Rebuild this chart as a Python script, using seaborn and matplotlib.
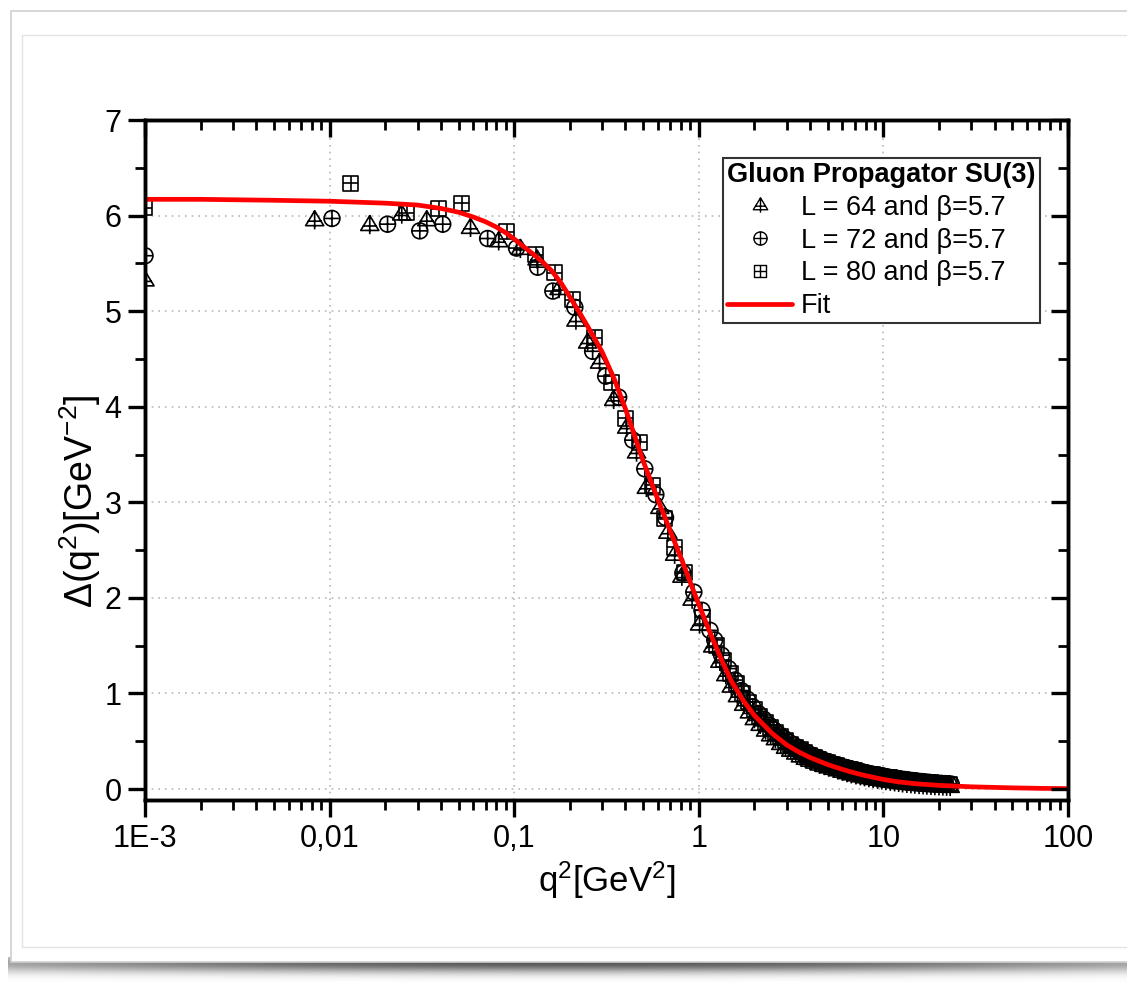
import numpy as np
import pandas as pd
import matplotlib
matplotlib.use("Agg")
import matplotlib.pyplot as plt
import seaborn as sns
from matplotlib.path import Path
from matplotlib.lines import Line2D
from matplotlib.patches import Rectangle
from matplotlib.ticker import FixedLocator, FixedFormatter, NullFormatter, MultipleLocator, LogLocator

# ---------------- data ----------------
q2_L64 = [0.001, 0.0083, 0.0165, 0.0246, 0.0336, 0.058, 0.0824, 0.108, 0.133, 0.175,
          0.216, 0.250, 0.29, 0.346, 0.407, 0.46, 0.52, 0.615, 0.68, 0.74, 0.81, 0.92, 1.01,
          1.19, 1.3, 1.4, 1.5, 1.62, 1.75, 1.88, 2.0, 2.15, 2.3, 2.45, 2.6, 2.78, 2.95,
          3.15, 3.35, 3.55, 3.78, 4.0, 4.25, 4.5, 4.78, 5.05, 5.35, 5.65, 6.0, 6.35, 6.7,
          7.1, 7.5, 7.9, 8.35, 8.8, 9.3, 9.8, 10.3, 10.9, 11.5, 12.1, 12.7, 13.4, 14.1,
          14.8, 15.6, 16.4, 17.2, 18.1, 19.0, 20.0, 21.0, 22.0, 23.0]
D_L64 = [5.32, 5.95, 5.90, 6.01, 5.95, 5.87, 5.73, 5.65, 5.54, 5.23,
         4.90, 4.67, 4.46, 4.07, 3.78, 3.52, 3.15, 2.94, 2.68, 2.45, 2.22, 1.98, 1.72,
         1.49, 1.33, 1.19, 1.07, 0.97, 0.88, 0.80, 0.73, 0.67, 0.61, 0.56, 0.52, 0.47, 0.43,
         0.40, 0.37, 0.34, 0.315, 0.295, 0.275, 0.255, 0.24, 0.225, 0.21, 0.195, 0.18, 0.165, 0.153,
         0.142, 0.132, 0.122, 0.113, 0.104, 0.096, 0.089, 0.082, 0.075, 0.069, 0.063, 0.058, 0.053, 0.049,
         0.045, 0.041, 0.038, 0.035, 0.032, 0.029, 0.027, 0.025, 0.023, 0.021]

q2_L72 = [0.001, 0.0103, 0.0206, 0.0308, 0.041, 0.0718, 0.103, 0.134, 0.162, 0.213,
          0.266, 0.313, 0.368, 0.439, 0.51, 0.585, 0.66, 0.82, 0.94, 1.04, 1.15,
          1.22, 1.33, 1.45, 1.57, 1.7, 1.83, 1.96, 2.1, 2.25, 2.4, 2.55, 2.72, 2.9, 3.08,
          3.27, 3.47, 3.68, 3.9, 4.13, 4.38, 4.64, 4.9, 5.2, 5.5, 5.82, 6.17, 6.52, 6.9,
          7.3, 7.7, 8.12, 8.57, 9.05, 9.55, 10.05, 10.6, 11.2, 11.8, 12.4, 13.05, 13.75,
          14.45, 15.2, 16.0, 16.8, 17.65, 18.5, 19.5, 20.5, 21.5, 22.5, 23.3]
D_L72 = [5.58, 5.97, 5.91, 5.84, 5.91, 5.76, 5.66, 5.46, 5.21, 5.04,
         4.58, 4.32, 4.10, 3.65, 3.35, 3.08, 2.84, 2.26, 2.06, 1.87, 1.66,
         1.56, 1.40, 1.26, 1.14, 1.03, 0.94, 0.86, 0.79, 0.73, 0.67, 0.62, 0.57, 0.53, 0.49,
         0.46, 0.43, 0.40, 0.375, 0.35, 0.33, 0.31, 0.29, 0.272, 0.256, 0.241, 0.227, 0.214, 0.202,
         0.19, 0.179, 0.169, 0.159, 0.150, 0.141, 0.133, 0.125, 0.118, 0.111, 0.105, 0.099, 0.093,
         0.088, 0.083, 0.078, 0.074, 0.070, 0.066, 0.062, 0.059, 0.056, 0.053, 0.051]

q2_L80 = [0.001, 0.0130, 0.0261, 0.039, 0.0519, 0.091, 0.131, 0.166, 0.207, 0.273,
          0.338, 0.402, 0.479, 0.563, 0.654, 0.74, 0.84, 1.05,
          1.25, 1.36, 1.48, 1.6, 1.73, 1.86, 2.0, 2.14, 2.29, 2.44, 2.6, 2.77, 2.95,
          3.14, 3.33, 3.54, 3.76, 3.98, 4.22, 4.47, 4.73, 5.0, 5.3, 5.6, 5.92, 6.26,
          6.62, 7.0, 7.4, 7.8, 8.25, 8.7, 9.2, 9.7, 10.2, 10.75, 11.3, 11.9, 12.55,
          13.2, 13.9, 14.6, 15.4, 16.2, 17.0, 17.9, 18.8, 19.8, 20.8, 21.8, 22.8]
D_L80 = [6.08, 6.34, 6.03, 6.07, 6.13, 5.83, 5.59, 5.40, 5.12, 4.72,
         4.25, 3.88, 3.63, 3.18, 2.83, 2.53, 2.27, 1.80,
         1.50, 1.35, 1.21, 1.10, 1.00, 0.91, 0.83, 0.76, 0.70, 0.64, 0.59, 0.545, 0.505,
         0.47, 0.44, 0.41, 0.38, 0.355, 0.333, 0.312, 0.293, 0.275, 0.258, 0.243, 0.228, 0.214,
         0.201, 0.189, 0.178, 0.167, 0.157, 0.148, 0.139, 0.131, 0.123, 0.116, 0.109, 0.103, 0.097,
         0.091, 0.086, 0.081, 0.076, 0.072, 0.068, 0.064, 0.060, 0.057, 0.054, 0.051, 0.048]

fit_q2 = [0.001, 0.002, 0.005, 0.01, 0.02, 0.03, 0.04, 0.05, 0.06, 0.07, 0.08, 0.09,
          0.1, 0.115, 0.13, 0.145, 0.16, 0.18, 0.2, 0.225, 0.25, 0.275, 0.3, 0.35, 0.4,
          0.45, 0.5, 0.55, 0.6, 0.7, 0.8, 0.9, 1.0, 1.1, 1.2, 1.35, 1.5, 1.75, 2.0, 2.5,
          3.0, 3.5, 4.0, 5.0, 6.0, 7.0, 8.0, 10.0, 12.0, 15.0, 20.0, 30.0, 50.0, 70.0, 100.0]
fit_D = [6.17, 6.17, 6.16, 6.15, 6.13, 6.11, 6.075, 6.035, 5.985, 5.935, 5.88, 5.82,
         5.755, 5.66, 5.58, 5.50, 5.42, 5.29, 5.15, 4.99, 4.84, 4.70, 4.57, 4.28, 3.98,
         3.69, 3.43, 3.22, 3.03, 2.70, 2.42, 2.16, 1.93, 1.73, 1.55, 1.32, 1.13, 0.92, 0.77, 0.58,
         0.46, 0.385, 0.33, 0.255, 0.205, 0.168, 0.14, 0.10, 0.075, 0.055, 0.038, 0.023, 0.012, 0.007, 0.004]

series_labels = ["L = 64 and \u03b2=5.7", "L = 72 and \u03b2=5.7", "L = 80 and \u03b2=5.7"]
fit_label = "Fit"
legend_title = "Gluon Propagator SU(3)"
xtick_vals = [1e-3, 1e-2, 1e-1, 1, 10, 100]
xtick_labels = ["1E-3", "0,01", "0,1", "1", "10", "100"]

# ---------------- marker shapes ----------------
M, L, C = Path.MOVETO, Path.LINETO, Path.CLOSEPOLY

def compound(*ps):
    return Path.make_compound_path(*ps)

circ = Path.circle((0, 0), 1.0)
plus1 = Path([(-1, 0), (1, 0)], [M, L])
plus2 = Path([(0, -1), (0, 1)], [M, L])
circle_plus = compound(circ, plus1, plus2)
square_plus = compound(Path([(-1, -1), (1, -1), (1, 1), (-1, 1), (-1, -1)], [M, L, L, L, C]), plus1, plus2)
tri_plus = compound(Path([(0, 0.9), (-0.85, -0.5), (0.85, -0.5), (0, 0.9)], [M, L, L, C]),
                    Path([(0, 0.9), (0, -0.85)], [M, L]),
                    Path([(-0.65, -0.08), (0.65, -0.08)], [M, L]))

# ---------------- style ----------------
sns.set_style("white")
plt.rcParams["font.family"] = ["Liberation Sans", "DejaVu Sans"]
plt.rcParams["mathtext.fontset"] = "custom"
plt.rcParams["mathtext.rm"] = "Liberation Sans"
plt.rcParams["mathtext.it"] = "Liberation Sans:italic"
plt.rcParams["mathtext.default"] = "regular"
for key in ["text.color", "axes.labelcolor", "xtick.color", "ytick.color", "legend.labelcolor"]:
    plt.rcParams[key] = "black"

fig = plt.figure(figsize=(11.27, 9.82), dpi=100)
fig.patch.set_facecolor("white")

# decorative card / frame
bg = fig.add_axes([0, 0, 1, 1], zorder=-10)
bg.set_xlim(0, 1127)
bg.set_ylim(982, 0)
bg.axis("off")
shadow = np.linspace(0, 1, 30)[:, None]
prof = np.exp(-((shadow - 0.2) / 0.35) ** 2)
hprof = 0.55 + 0.45 * np.sin(np.linspace(0, np.pi, 200))[None, :]
img = 1 - 0.65 * prof * hprof
bg.imshow(img, cmap="gray", vmin=0, vmax=1, extent=[8, 1127, 985, 957], aspect="auto", zorder=0)
bg.add_patch(Rectangle((11, 11), 1140, 951, facecolor="white", edgecolor="#d0d0d0", lw=1.2, zorder=1))
bg.add_patch(Rectangle((22, 35), 1140, 912, facecolor="white", edgecolor="#e4e4e4", lw=1.0, zorder=2))

ax = fig.add_axes([0.12866, 0.18534, 0.81899, 0.69246])
ax.set_facecolor("white")
ax.set_xscale("log")

for q, d, mk, s in [(q2_L64, D_L64, tri_plus, 190), (q2_L72, D_L72, circle_plus, 130), (q2_L80, D_L80, square_plus, 115)]:
    sns.scatterplot(x=q, y=d, marker=mk, s=s, facecolors="none", edgecolor="black",
                    linewidth=1.2, ax=ax, zorder=3)

sns.lineplot(x=fit_q2, y=fit_D, color="#ff0000", linewidth=3.4, ax=ax, sort=False, zorder=4)

ax.set_xlim(1e-3, 100)
ax.set_ylim(-0.115, 7)

ax.xaxis.set_major_locator(FixedLocator(xtick_vals))
ax.xaxis.set_major_formatter(FixedFormatter(xtick_labels))
ax.xaxis.set_minor_locator(LogLocator(base=10, subs=np.arange(2, 10)))
ax.xaxis.set_minor_formatter(NullFormatter())
ax.yaxis.set_major_locator(MultipleLocator(1))
ax.yaxis.set_minor_locator(MultipleLocator(0.5))

ax.grid(True, which="major", linestyle=(0, (1, 3)), color="#b8b8b8", linewidth=1.2)
ax.set_axisbelow(True)

ax.tick_params(which="major", direction="out", length=12, width=2.4, labelsize=22, pad=5, colors="black")
ax.tick_params(which="minor", direction="out", length=7, width=2.0)
for sp in ax.spines.values():
    sp.set_linewidth(2.4)
    sp.set_color("black")

# inward ticks on top / right
axr = ax.twinx()
axr.set_ylim(ax.get_ylim())
axr.yaxis.set_major_locator(MultipleLocator(1))
axr.yaxis.set_minor_locator(MultipleLocator(0.5))
axr.tick_params(which="major", direction="in", length=12, width=2.4, labelright=False)
axr.tick_params(which="minor", direction="in", length=7, width=2.0)
axt = ax.twiny()
axt.set_xscale("log")
axt.set_xlim(ax.get_xlim())
axt.xaxis.set_major_locator(FixedLocator(xtick_vals))
axt.xaxis.set_minor_locator(LogLocator(base=10, subs=np.arange(2, 10)))
axt.xaxis.set_minor_formatter(NullFormatter())
axt.tick_params(which="major", direction="in", length=12, width=2.4, labeltop=False)
axt.tick_params(which="minor", direction="in", length=7, width=2.0)
for a in (axr, axt):
    for sp in a.spines.values():
        sp.set_linewidth(2.4)
        sp.set_color("black")

ax.set_xlabel(r"q$^2$[GeV$^2$]", fontsize=25, labelpad=4, color="black")
ax.set_ylabel(r"$\Delta$(q$^2$)[GeV$^{-2}$]", fontsize=27, color="black")
ax.yaxis.set_label_coords(-0.045, 0.44)

handles = [
    Line2D([], [], linestyle="none", marker=tri_plus, markersize=11, markerfacecolor="none", markeredgecolor="black", markeredgewidth=1.0),
    Line2D([], [], linestyle="none", marker=circle_plus, markersize=9.5, markerfacecolor="none", markeredgecolor="black", markeredgewidth=1.0),
    Line2D([], [], linestyle="none", marker=square_plus, markersize=8.5, markerfacecolor="none", markeredgecolor="black", markeredgewidth=1.0),
    Line2D([], [], color="#ff0000", linewidth=3.4),
]
leg = ax.legend(handles, series_labels + [fit_label], title=legend_title,
                loc="upper right", bbox_to_anchor=(0.9697, 0.944), frameon=True, fancybox=False,
                edgecolor="#333333", fontsize=19.5,
                title_fontproperties={"weight": "bold", "size": 19.5},
                handlelength=2.4, handletextpad=0.3, labelspacing=0.25, borderpad=0.15,
                borderaxespad=0, framealpha=1)
leg._legend_box.align = "left"
leg.get_frame().set_linewidth(1.5)
leg.get_title().set_color("black")
for t in leg.get_texts():
    t.set_color("black")
leg.set_zorder(10)

fig.savefig("out.png", dpi=100, facecolor="white")
